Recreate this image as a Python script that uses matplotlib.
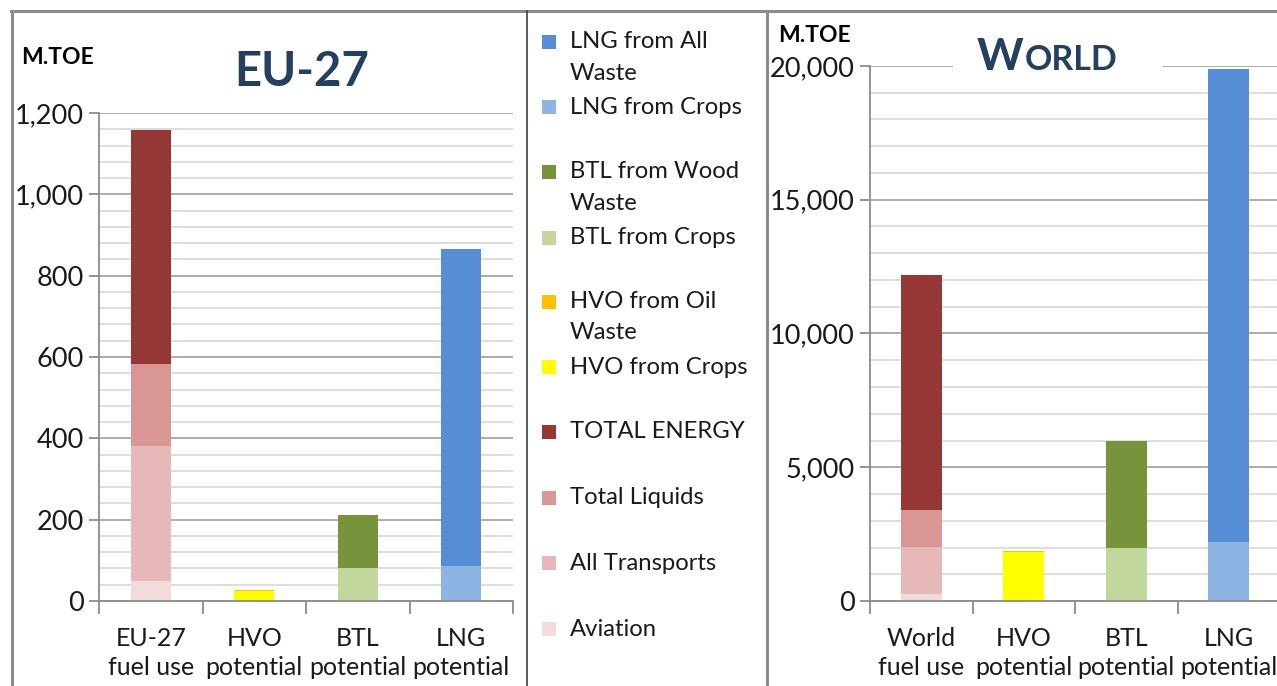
import matplotlib
matplotlib.use("Agg")
import matplotlib.pyplot as plt
import numpy as np
from matplotlib.lines import Line2D
from matplotlib.patches import Rectangle
from matplotlib.offsetbox import TextArea, HPacker, AnnotationBbox
from matplotlib.ticker import FuncFormatter, MultipleLocator

plt.rcParams['font.family'] = ['Lato', 'DejaVu Sans']

# ---------------- data ----------------
eu_categories = ["EU-27\nfuel use", "HVO\npotential", "BTL\npotential", "LNG\npotential"]
world_categories = ["World\nfuel use", "HVO\npotential", "BTL\npotential", "LNG\npotential"]

series_names = ["LNG from All\nWaste", "LNG from Crops", "BTL from Wood\nWaste", "BTL from Crops",
                "HVO from Oil\nWaste", "HVO from Crops", "TOTAL ENERGY", "Total Liquids",
                "All Transports", "Aviation"]
series_colors = ["#558ED5", "#8EB4E3", "#77933C", "#C3D69B", "#FFC000", "#FFFF00",
                 "#953735", "#D99694", "#E6B9B8", "#F2DCDB"]

# stacked segment heights (M.TOE), bottom-to-top
# EU-27
eu_aviation = 50
eu_transports = 330
eu_liquids = 203
eu_energy = 574
eu_hvo_crops = 24
eu_hvo_oilwaste = 2
eu_btl_crops = 80
eu_btl_wood = 132
eu_lng_crops = 87
eu_lng_waste = 778

# World
w_aviation = 250
w_transports = 1770
w_liquids = 1380
w_energy = 8800
w_hvo_crops = 1820
w_hvo_oilwaste = 60
w_btl_crops = 2000
w_btl_wood = 4000
w_lng_crops = 2200
w_lng_waste = 17700

eu_stacks = [
    (0, [eu_aviation, eu_transports, eu_liquids, eu_energy], ["Aviation", "All Transports", "Total Liquids", "TOTAL ENERGY"]),
    (1, [eu_hvo_crops, eu_hvo_oilwaste], ["HVO from Crops", "HVO from Oil\nWaste"]),
    (2, [eu_btl_crops, eu_btl_wood], ["BTL from Crops", "BTL from Wood\nWaste"]),
    (3, [eu_lng_crops, eu_lng_waste], ["LNG from Crops", "LNG from All\nWaste"]),
]
world_stacks = [
    (0, [w_aviation, w_transports, w_liquids, w_energy], ["Aviation", "All Transports", "Total Liquids", "TOTAL ENERGY"]),
    (1, [w_hvo_crops, w_hvo_oilwaste], ["HVO from Crops", "HVO from Oil\nWaste"]),
    (2, [w_btl_crops, w_btl_wood], ["BTL from Crops", "BTL from Wood\nWaste"]),
    (3, [w_lng_crops, w_lng_waste], ["LNG from Crops", "LNG from All\nWaste"]),
]
color_of = dict(zip(series_names, series_colors))

W, H = 1277, 686
fig = plt.figure(figsize=(W / 100, H / 100), dpi=100)
fig.patch.set_facecolor("white")

TXT = "#1a1a1a"


def fx(px):
    return px / W


def fy(py):
    return 1 - py / H


def style_axes(ax, ymax, major, minor, cats):
    ax.set_xlim(-0.5, 3.5)
    ax.set_ylim(0, ymax)
    ax.yaxis.set_major_locator(MultipleLocator(major))
    ax.yaxis.set_minor_locator(MultipleLocator(minor))
    ax.yaxis.set_major_formatter(FuncFormatter(lambda v, p: f"{int(v):,}"))
    ax.grid(which="major", axis="y", color="#A6A6A6", linewidth=1.3)
    ax.grid(which="minor", axis="y", color="#D4D4D4", linewidth=1.1)
    ax.set_axisbelow(True)
    for s in ["top", "right"]:
        ax.spines[s].set_visible(False)
    for s in ["left", "bottom"]:
        ax.spines[s].set_color("#8C8C8C")
        ax.spines[s].set_linewidth(1.3)
    ax.tick_params(axis="y", which="major", length=7, width=1.3, color="#8C8C8C",
                   labelsize=19.5, pad=4, labelcolor=TXT)
    ax.tick_params(axis="y", which="minor", length=0)
    ax.set_xticks([-0.5, 0.5, 1.5, 2.5, 3.5])
    ax.set_xticklabels([])
    ax.tick_params(axis="x", which="major", length=9, width=1.3, color="#8C8C8C")
    ax.set_xticks(range(4), minor=True)
    ax.set_xticklabels(cats, minor=True, fontsize=18, linespacing=1.32, color=TXT)
    ax.tick_params(axis="x", which="minor", length=0, pad=19)
    ax.set_facecolor("white")


def draw_stacks(ax, stacks, width):
    for idx, vals, names in stacks:
        bottom = 0
        for v, n in zip(vals, names):
            ax.bar(idx, v, width=width, bottom=bottom, color=color_of[n], linewidth=0)
            bottom += v


# EU-27 axes
ax1 = fig.add_axes([fx(99), fy(601), fx(414), (601 - 113) / H])
style_axes(ax1, 1200, 200, 40, eu_categories)
draw_stacks(ax1, eu_stacks, 0.39)

# World axes
ax2 = fig.add_axes([fx(870), fy(601), fx(410), (601 - 66) / H])
style_axes(ax2, 20000, 5000, 1000, world_categories)
draw_stacks(ax2, world_stacks, 0.40)

# titles
fig.text(fx(302), fy(72), "EU-27", fontsize=34, fontweight="bold", color="#243F60",
         ha="center", va="center")
fig.text(fx(21), fy(58), "M.TOE", fontsize=16.5, fontweight="bold", color="black",
         ha="left", va="center")
fig.text(fx(778), fy(36), "M.TOE", fontsize=16.5, fontweight="bold", color="black",
         ha="left", va="center")

ta1 = TextArea("W", textprops=dict(fontsize=32, fontweight="bold", color="#243F60"))
ta2 = TextArea("ORLD", textprops=dict(fontsize=24.5, fontweight="bold", color="#243F60"))
pack = HPacker(children=[ta1, ta2], align="baseline", pad=0, sep=1)
ab = AnnotationBbox(pack, (fx(1047), fy(57)), xycoords="figure fraction",
                    frameon=True, pad=0.3, box_alignment=(0.5, 0.5))
ab.patch.set_facecolor("white")
ab.patch.set_edgecolor("white")
ab.set_zorder(5)
fig.add_artist(ab)
# extend white cover of the gridline under the title like the reference
fig.patches.append(Rectangle((fx(953), fy(70)), fx(210), 8 / H, transform=fig.transFigure,
                             facecolor="white", edgecolor="none", zorder=4))

# legend (manual, in the middle panel)
legend_rows = [42, 107, 172, 238, 302, 367, 432, 498, 563, 629]
for name, col, yrow in zip(series_names, series_colors, legend_rows):
    fig.patches.append(Rectangle((fx(542), fy(yrow + 7)), fx(14), 14 / H,
                                 transform=fig.transFigure, facecolor=col,
                                 edgecolor="none"))
    for k, line in enumerate(name.split("\n")):
        fig.text(fx(570), fy(yrow + 31 * k), line, fontsize=17.2, color=TXT,
                 ha="left", va="center")

# frame lines
frame = [
    ((11, 1277), (11, 11), "#8C8C8C", 2.2),
    ((12, 12), (11, 686), "#8C8C8C", 2.2),
    ((527, 527), (11, 686), "#404040", 1.2),
    ((767, 767), (11, 686), "#8C8C8C", 2.2),
]
for xs, ys, c, lw in frame:
    fig.add_artist(Line2D([fx(xs[0]), fx(xs[1])], [fy(ys[0]), fy(ys[1])],
                          transform=fig.transFigure, color=c, linewidth=lw))

fig.savefig("out.png", dpi=100, facecolor="white")
